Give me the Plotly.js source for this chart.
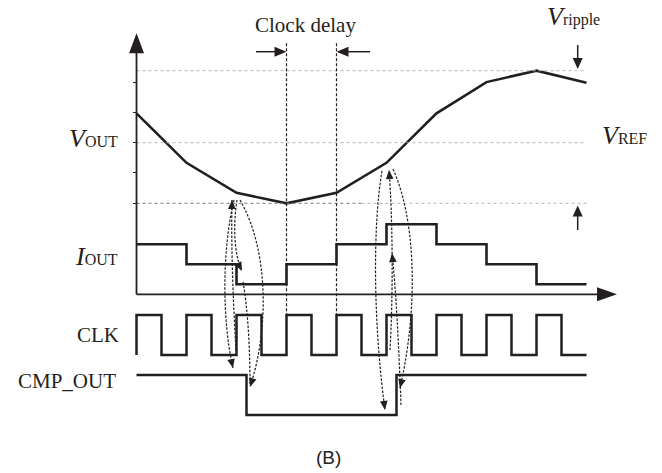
<!DOCTYPE html>
<html>
<head>
<meta charset="utf-8">
<script src="https://cdn.plot.ly/plotly-3.0.1.min.js"></script>
<style>html,body{margin:0;padding:0;background:#fff;}#chart{width:662px;height:473px;}</style>
</head>
<body>
<div id="chart"></div>
<script>
// ---------------- data (time in clock periods) ----------------
const sampleTimes = [0, 1, 2, 3, 4, 5, 6, 7, 8, 9];
const voutValues  = [0.98, -0.67, -1.67, -2.02, -1.67, -0.67, 0.98, 2.02, 2.4, 2.0];
const ioutTimes   = [0, 1, 2, 3, 4, 5, 6, 7, 8, 9];
const ioutLevels  = [2, 1, 0, 1, 2, 3, 2, 1, 0, 0];
const clkTimes    = [0, 0, 0.5, 1, 1.5, 2, 2.5, 3, 3.5, 4, 4.5, 5, 5.5, 6, 6.5, 7, 7.5, 8, 8.5, 9];
const clkLevels   = [0, 1, 0, 1, 0, 1, 0, 1, 0, 1, 0, 1, 0, 1, 0, 1, 0, 1, 0, 0];
const cmpTimes    = [0, 2.2, 5.2, 9];
const cmpLevels   = [1, 0, 1, 1];
const vTicks      = [2, 1, 0, -1, -2.02];
const vRipTop     = 2.4, vRef = 0, vRipBottom = -2.02;
const delayStart  = 3, delayEnd = 4;
const labels = {vout: 'V', iout: 'I', clk: 'CLK', cmp: 'CMP_OUT', ref: 'V', ripple: 'V', delay: 'Clock delay', fig: '(B)'};

// dashed causal arrows (cubic Bezier control points, [t, v])
const causalCurves = [
  {p: [[1.95,-1.91],[1.71,-3.58],[1.71,-5.91],[1.93,-7.51]], head: true},
  {p: [[2.01,-1.91],[1.93,-2.74],[1.95,-3.74],[2.11,-4.28]], head: true},
  {p: [[1.99,-6.91],[1.93,-5.24],[1.89,-3.41],[1.91,-1.91]], head: true},
  {p: [[2.07,-1.91],[2.65,-3.58],[2.65,-6.24],[2.27,-8.14]], head: true},
  {p: [[2.13,-4.64],[2.23,-5.58],[2.27,-6.91],[2.27,-8.11]], head: false},
  {p: [[4.91,-0.94],[4.71,-2.91],[4.75,-6.24],[4.97,-8.91]], head: true},
  {p: [[5.29,-8.74],[5.25,-6.91],[5.19,-4.91],[5.11,-3.68]], head: true},
  {p: [[5.07,-6.91],[5.13,-5.24],[5.13,-2.58],[5.05,-0.91]], head: true},
  {p: [[5.13,-0.88],[5.55,-2.41],[5.67,-5.24],[5.27,-8.18]], head: true}
];

// ---------------- geometry of the canvas ----------------
const W = 662, H = 473;
const T0PX = 136.5, PXT = 50;      // pixel of t=0, pixels per period
const VREFPY = 142.7, PXV = 30;    // pixel of V_REF, pixels per V unit
const IOUT0PY = 284.3, PXI = 20;
const CLK0PY = 355, PXC = 40;
const CMP0PY = 415, PXM = 40;
const axisV = (VREFPY - 294.3) / PXV;   // level of time axis in V units
const tEnd = 9;

const toPx = (t, v) => [T0PX + PXT * t, VREFPY - PXV * v];
const toData = (px, py) => [(px - T0PX) / PXT, (VREFPY - py) / PXV];
const INK = '#231f20';

function headPath(tip, from, L, Wd) {
  const P = toPx(tip[0], tip[1]), F = toPx(from[0], from[1]);
  let dx = P[0] - F[0], dy = P[1] - F[1];
  const n = Math.hypot(dx, dy); dx /= n; dy /= n;
  const bx = P[0] - L * dx, by = P[1] - L * dy;
  const a = toData(bx - Wd * dy, by + Wd * dx), b = toData(bx + Wd * dy, by - Wd * dx);
  return `M ${tip[0]} ${tip[1]} L ${a[0]} ${a[1]} L ${b[0]} ${b[1]} Z`;
}
const shapes = [];
function head(tip, from, L, Wd) {
  shapes.push({type: 'path', xref: 'x', yref: 'y', path: headPath(tip, from, L, Wd),
    fillcolor: INK, line: {width: 0}});
}
function seg(x0, y0, x1, y1, color, width, dash) {
  shapes.push({type: 'line', xref: 'x', yref: 'y', x0, y0, x1, y1,
    line: {color, width, dash: dash || 'solid'}});
}

// grid lines
seg(0, vRipTop, tEnd, vRipTop, '#b5b5b5', 1, 'dot');
seg(0, vRef, tEnd, vRef, '#b5b5b5', 1, 'dot');
seg(0, vRipBottom, 4.5, vRipBottom, '#777', 1, 'dot');
seg(4.5, vRipBottom, tEnd, vRipBottom, '#b5b5b5', 1, 'dot');
// clock delay verticals
const delayTop = toData(0, 43.3)[1], delayBottom = toData(0, 315)[1];
seg(delayStart, delayTop, delayStart, delayBottom, INK, 1.2, '3px,2px');
seg(delayEnd, delayTop, delayEnd, delayBottom, INK, 1.2, '3px,2px');
// axes
const yArrowTip = toData(0, 33.3)[1], yArrowBase = toData(0, 53)[1];
seg(0, axisV, 0, yArrowBase + 0.05, INK, 1.8);
head([0, yArrowTip], [0, axisV], 20, 7.5);
const xArrowTip = toData(617, 0)[0];
seg(0, axisV, xArrowTip - 0.4, axisV, INK, 1.8);
head([xArrowTip, axisV], [0, axisV], 20, 7);
// clock delay arrows
const delayArrowV = toData(0, 51.7)[1];
seg(toData(256, 0)[0], delayArrowV, delayStart - 0.2, delayArrowV, INK, 1.5);
head([delayStart, delayArrowV], [0, delayArrowV], 12, 5);
seg(toData(370, 0)[0], delayArrowV, delayEnd + 0.2, delayArrowV, INK, 1.5);
head([delayEnd, delayArrowV], [tEnd, delayArrowV], 12, 5);
// ripple arrows
const ripT = toData(577.7, 0)[0];
const downTail = toData(0, 45)[1], downTip = vRipTop + 0.06;
seg(ripT, downTail, ripT, downTip + 0.3, INK, 1.5);
head([ripT, downTip], [ripT, downTail], 11, 5);
const upTail = toData(0, 230)[1], upTip = vRipBottom - 0.07;
seg(ripT, upTail, ripT, upTip - 0.3, INK, 1.5);
head([ripT, upTip], [ripT, upTail], 11, 5);
// causal dashed curves
causalCurves.forEach(c => {
  const p = c.p;
  shapes.push({type: 'path', xref: 'x', yref: 'y',
    path: `M ${p[0][0]} ${p[0][1]} C ${p[1][0]} ${p[1][1]}, ${p[2][0]} ${p[2][1]}, ${p[3][0]} ${p[3][1]}`,
    line: {color: INK, width: 1.2, dash: '2.5px,1.5px'}});
  if (c.head) head(p[3], p[2], 9, 3.8);
});

// ---------------- traces ----------------
const traces = [
  {x: sampleTimes, y: voutValues, mode: 'lines', line: {color: INK, width: 2.6}, yaxis: 'y', hoverinfo: 'skip'},
  {x: ioutTimes, y: ioutLevels, mode: 'lines', line: {color: INK, width: 2.6, shape: 'hv'}, yaxis: 'y2', hoverinfo: 'skip'},
  {x: clkTimes, y: clkLevels, mode: 'lines', line: {color: INK, width: 2.5, shape: 'hv'}, yaxis: 'y3', hoverinfo: 'skip'},
  {x: cmpTimes, y: cmpLevels, mode: 'lines', line: {color: INK, width: 2.5, shape: 'hv'}, yaxis: 'y4', hoverinfo: 'skip'}
];

// ---------------- text ----------------
const serif = 'Liberation Serif, Times New Roman, serif';
function ann(text, px, py, size, xanchor, family) {
  return {text, xref: 'paper', yref: 'paper', x: px / W, y: 1 - py / H,
    xanchor: xanchor || 'center', yanchor: 'middle', showarrow: false,
    font: {family: family || serif, size, color: INK}};
}
const sub = (s, size) => `<span style="font-size:${size}px">${s}</span>`;
const annotations = [
  ann(labels.delay, 305.5, 25, 21),
  ann(`<i>${labels.ripple}</i>${sub('ripple', 16)}`, 573.7, 16, 26),
  ann(`<i>${labels.ref}</i>${sub('REF', 16)}`, 624.5, 135, 26),
  ann(`<i>${labels.vout}</i>${sub('OUT', 16)}`, 120, 138, 26, 'right'),
  ann(`<i>${labels.iout}</i>${sub('OUT', 16)}`, 120, 256, 26, 'right'),
  ann(labels.clk, 121, 335, 21, 'right'),
  ann(labels.cmp, 118, 381, 21, 'right'),
  ann(labels.fig, 328.5, 457, 19, 'center', 'Liberation Sans, Arial, sans-serif')
];

const hidden = {visible: false, fixedrange: true};
const layout = {
  width: W, height: H, margin: {l: 0, r: 0, t: 0, b: 0},
  paper_bgcolor: '#fff', plot_bgcolor: '#fff', showlegend: false,
  xaxis: Object.assign({range: [-T0PX / PXT, (W - T0PX) / PXT]}, hidden),
  yaxis: {range: [(VREFPY - H) / PXV, VREFPY / PXV], anchor: 'free', position: T0PX / W,
    showline: false, showgrid: false, zeroline: false, showticklabels: false,
    ticks: 'outside', ticklen: 4, tickwidth: 1.5, tickcolor: INK,
    tickmode: 'array', tickvals: vTicks, fixedrange: true},
  yaxis2: Object.assign({overlaying: 'y', range: [(IOUT0PY - H) / PXI, IOUT0PY / PXI]}, hidden),
  yaxis3: Object.assign({overlaying: 'y', range: [(CLK0PY - H) / PXC, CLK0PY / PXC]}, hidden),
  yaxis4: Object.assign({overlaying: 'y', range: [(CMP0PY - H) / PXM, CMP0PY / PXM]}, hidden),
  shapes, annotations
};
Plotly.newPlot('chart', traces, layout, {staticPlot: true, displayModeBar: false});
</script>
</body>
</html>
